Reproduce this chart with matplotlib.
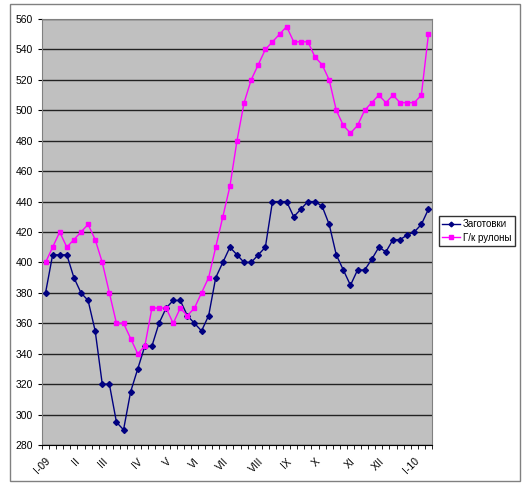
import numpy as np
import matplotlib.pyplot as plt
from matplotlib.patches import Rectangle

plt.rcParams['font.family'] = ['Liberation Sans', 'DejaVu Sans']

# weekly prices, Jan 2009 - Jan 2010
billets = [380, 405, 405, 405, 390, 380, 375, 355, 320, 320,
           295, 290, 315, 330, 345, 345, 360, 370, 375, 375,
           365, 360, 355, 365, 390, 400, 410, 405, 400, 400,
           405, 410, 440, 440, 440, 430, 435, 440, 440, 437,
           425, 405, 395, 385, 395, 395, 402, 410, 407, 415,
           415, 418, 420, 425, 435]
coils = [400, 410, 420, 410, 415, 420, 425, 415, 400, 380,
         360, 360, 350, 340, 345, 370, 370, 370, 360, 370,
         365, 370, 380, 390, 410, 430, 450, 480, 505, 520,
         530, 540, 545, 550, 555, 545, 545, 545, 535, 530,
         520, 500, 490, 485, 490, 500, 505, 510, 505, 510,
         505, 505, 505, 510, 550]
month_labels = ['I-09', 'II', 'III', 'IV', 'V', 'VI', 'VII', 'VIII',
                'IX', 'X', 'XI', 'XII', 'I-10']
month_pos = [0, 4, 8, 13, 17, 21, 25, 30, 34, 38, 43, 47, 52]

W, H = 524, 486
fig = plt.figure(figsize=(W / 100, H / 100), dpi=100)
ax = fig.add_axes([42 / W, 1 - 445 / H, 390 / W, 426 / H])
ax.set_facecolor('#C0C0C0')

x = np.arange(len(billets))
ax.plot(x, billets, color='#000080', lw=1, marker='D', ms=3,
        label='Заготовки', zorder=3)
ax.plot(x, coils, color='#FF00FF', lw=1, marker='s', ms=3.5,
        label='Г/к рулоны', zorder=3)

ax.set_xlim(-0.5, len(billets) - 0.5)
ax.set_ylim(280, 560)
ax.set_yticks(np.arange(280, 561, 20))
ax.yaxis.grid(True, color='#222222', lw=1)
ax.set_axisbelow(True)

ax.set_xticks(month_pos)
ax.set_xticklabels(month_labels, rotation=45, ha='right', va='top',
                   rotation_mode='anchor')
ax.set_xticks(np.arange(-0.5, len(billets), 1), minor=True)
ax.tick_params(axis='x', which='major', length=0, pad=8, labelsize=7.5)
ax.tick_params(axis='x', which='minor', length=3, direction='out',
               color='black')
ax.tick_params(axis='y', length=3, direction='out', labelsize=7.5,
               color='black')

for s in ['top', 'right', 'left']:
    ax.spines[s].set_color('#808080')
ax.spines['bottom'].set_color('black')

fig.legend(loc='upper left', bbox_to_anchor=(439 / W, 1 - 216 / H),
           fontsize=7, frameon=True, fancybox=False, edgecolor='black',
           borderpad=0.35, handlelength=1.8, handletextpad=0.3,
           labelspacing=0.35, borderaxespad=0, markerscale=0.8)

fig.patches.append(Rectangle((10 / W, 1 - 481 / H), 510 / W, 477 / H,
                             transform=fig.transFigure, fill=False,
                             edgecolor='#808080', lw=1))

fig.savefig('out.png', dpi=100)
